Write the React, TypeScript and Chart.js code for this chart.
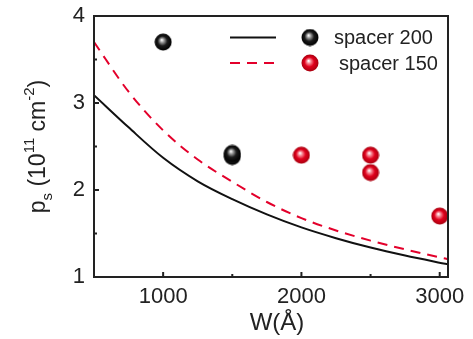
import React, { useEffect, useRef } from "react";
import { Chart, registerables } from "chart.js";

Chart.register(...registerables);

// Calculated sheet density curves (W in Å, p_s in 1e11 cm^-2)
const calcW200 = [500, 750, 1000, 1250, 1500, 1750, 2000, 2250, 2500, 2750, 3060];
const calcP200 = [3.09, 2.72, 2.37, 2.1, 1.895, 1.72, 1.57, 1.446, 1.338, 1.246, 1.145];
const calcW150 = [500, 750, 1000, 1250, 1500, 1750, 2000, 2250, 2500, 2750, 3000, 3060];
const calcP150 = [3.7, 3.13, 2.685, 2.35, 2.095, 1.862, 1.677, 1.535, 1.418, 1.318, 1.226, 1.205];

// Measured samples
const measW200 = [1000, 1500, 1500];
const measP200 = [3.7, 2.385, 2.42];
const measW150 = [2000, 2500, 2500, 3000];
const measP150 = [2.4, 2.4, 2.2, 1.7];

const legendLabels = ["spacer 200", "spacer 150"];
const xTicks = [1000, 2000, 3000];
const xMinorTicks = [1500, 2500];
const yTicks = [1, 2, 3, 4];
const yMinorTicks = [1.5, 2.5, 3.5];

const FONT = "'Liberation Sans', Arial, sans-serif";
const AXIS = "#222222";
const RED = "#e3002b";

function makeBall(light: string, base: string, dark: string, size = 18) {
  const c = document.createElement("canvas");
  c.width = size;
  c.height = size;
  const ctx = c.getContext("2d")!;
  const r = size / 2 - 0.5;
  const g = ctx.createRadialGradient(size * 0.42, size * 0.38, 0.3, size / 2, size / 2, r);
  g.addColorStop(0, "#ffffff");
  g.addColorStop(0.22, light);
  g.addColorStop(0.55, base);
  g.addColorStop(1, dark);
  ctx.fillStyle = g;
  ctx.beginPath();
  ctx.arc(size / 2, size / 2, r, 0, Math.PI * 2);
  ctx.fill();
  return c;
}

const pts = (xs: number[], ys: number[]) => xs.map((x, i) => ({ x, y: ys[i] }));

export default function App() {
  const ref = useRef<HTMLCanvasElement>(null);

  useEffect(() => {
    const blackBall = makeBall("#9a9a9a", "#1a1a1a", "#000000");
    const redBall = makeBall("#f78a95", "#e0001c", "#a8000f");

    const decor = {
      id: "decor",
      afterDatasetsDraw(chart: any) {
        const { ctx, chartArea: a, scales } = chart;
        const xs = scales.x;
        const ys = scales.y;
        ctx.save();
        // frame
        ctx.strokeStyle = AXIS;
        ctx.lineWidth = 2;
        ctx.strokeRect(a.left, a.top, a.right - a.left, a.bottom - a.top);
        // inward ticks
        ctx.beginPath();
        xTicks.forEach((v) => {
          const px = xs.getPixelForValue(v);
          ctx.moveTo(px, a.bottom);
          ctx.lineTo(px, a.bottom - 5);
        });
        xMinorTicks.forEach((v) => {
          const px = xs.getPixelForValue(v);
          ctx.moveTo(px, a.bottom);
          ctx.lineTo(px, a.bottom - 3);
        });
        yTicks.forEach((v) => {
          const py = ys.getPixelForValue(v);
          ctx.moveTo(a.left, py);
          ctx.lineTo(a.left + 5, py);
        });
        yMinorTicks.forEach((v) => {
          const py = ys.getPixelForValue(v);
          ctx.moveTo(a.left, py);
          ctx.lineTo(a.left + 3, py);
        });
        ctx.stroke();
        ctx.restore();
      },
      afterDraw(chart: any) {
        const { ctx, chartArea: a } = chart;
        ctx.save();
        ctx.fillStyle = AXIS;

        // x axis title
        ctx.font = `24px ${FONT}`;
        ctx.textAlign = "center";
        ctx.textBaseline = "alphabetic";
        ctx.fillText("W(Å)", 277, 330);

        // y axis title with sub/superscripts, rotated
        const main = `23px ${FONT}`;
        const small = `15px ${FONT}`;
        const parts: [string, string, number][] = [
          ["p", main, 0],
          ["s", small, -7],
          [" (10", main, 0],
          ["11", small, 11],
          [" cm", main, 0],
          ["-2", small, 11],
          [")", main, 0],
        ];
        let total = 0;
        const widths = parts.map(([t, f]) => {
          ctx.font = f;
          const w = ctx.measureText(t).width;
          total += w;
          return w;
        });
        ctx.translate(45, (a.top + a.bottom) / 2);
        ctx.rotate(-Math.PI / 2);
        ctx.textAlign = "left";
        let cx = -total / 2;
        parts.forEach(([t, f, dy], i) => {
          ctx.font = f;
          ctx.fillText(t, cx, -dy);
          cx += widths[i];
        });
        ctx.setTransform(1, 0, 0, 1, 0, 0);
        ctx.restore();

        // legend
        ctx.save();
        ctx.font = `20px ${FONT}`;
        ctx.textBaseline = "middle";
        ctx.fillStyle = AXIS;
        const rows = [
          { y: 37.5, color: "#111111", dash: [] as number[], ball: blackBall, tx: 334 },
          { y: 63, color: RED, dash: [10, 7], ball: redBall, tx: 339 },
        ];
        rows.forEach((r, i) => {
          ctx.strokeStyle = r.color;
          ctx.lineWidth = 2;
          ctx.setLineDash(r.dash);
          ctx.beginPath();
          ctx.moveTo(230, r.y);
          ctx.lineTo(276, r.y);
          ctx.stroke();
          ctx.setLineDash([]);
          ctx.drawImage(r.ball, 310 - r.ball.width / 2, r.y - r.ball.height / 2);
          ctx.fillText(legendLabels[i], r.tx, r.y + 1);
        });
        ctx.restore();
      },
    };

    const chart = new Chart(ref.current!, {
      type: "scatter",
      data: {
        datasets: [
          {
            label: "calc 200",
            data: pts(calcW200, calcP200),
            showLine: true,
            borderColor: "#111111",
            borderWidth: 2,
            pointRadius: 0,
            cubicInterpolationMode: "monotone",
          },
          {
            label: "calc 150",
            data: pts(calcW150, calcP150),
            showLine: true,
            borderColor: RED,
            borderWidth: 2,
            borderDash: [10, 7],
            pointRadius: 0,
            cubicInterpolationMode: "monotone",
          },
          {
            label: legendLabels[0],
            data: pts(measW200, measP200),
            pointStyle: blackBall,
            pointRadius: 9,
            clip: false,
          },
          {
            label: legendLabels[1],
            data: pts(measW150, measP150),
            pointStyle: redBall,
            pointRadius: 9,
            clip: false,
          },
        ],
      } as any,
      options: {
        animation: false,
        responsive: false,
        maintainAspectRatio: false,
        layout: { padding: { top: 16, right: 25, left: 0, bottom: 0 } },
        plugins: { legend: { display: false }, tooltip: { enabled: false } },
        scales: {
          x: {
            type: "linear",
            min: 500,
            max: 3060,
            grid: { display: false, drawTicks: false },
            border: { display: false },
            afterBuildTicks: (s: any) => {
              s.ticks = xTicks.map((v) => ({ value: v }));
            },
            afterFit: (s: any) => {
              s.height = 62;
              s.paddingLeft = 0;
              s.paddingRight = 0;
            },
            ticks: {
              font: { family: FONT, size: 22 },
              color: AXIS,
              padding: 7,
              maxRotation: 0,
              callback: (v: any) => String(v),
            },
          },
          y: {
            type: "linear",
            min: 1,
            max: 4,
            grid: { display: false, drawTicks: false },
            border: { display: false },
            afterBuildTicks: (s: any) => {
              s.ticks = yTicks.map((v) => ({ value: v }));
            },
            afterFit: (s: any) => {
              s.width = 94;
              s.paddingTop = 0;
              s.paddingBottom = 0;
            },
            ticks: {
              font: { family: FONT, size: 22 },
              color: AXIS,
              padding: 9,
              callback: (v: any) => String(v),
            },
          },
        },
      } as any,
      plugins: [decor],
    });
    return () => chart.destroy();
  }, []);

  return (
    <div style={{ position: "fixed", left: 0, top: 0, width: 473, height: 339, background: "#fff" }}>
      <canvas ref={ref} width={473} height={339} style={{ width: 473, height: 339, display: "block" }} />
    </div>
  );
}
